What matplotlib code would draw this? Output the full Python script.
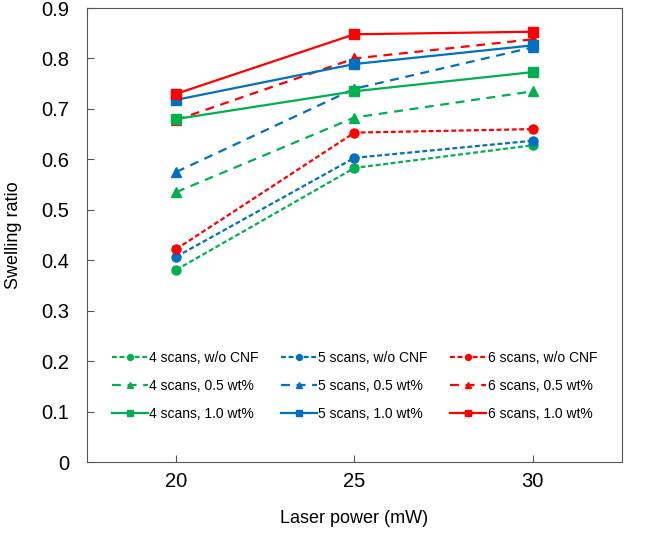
import matplotlib.pyplot as plt

plt.rcParams['font.family'] = ['Liberation Sans', 'DejaVu Sans']

power = [20, 25, 30]

# swelling ratio per series
s4_none = [0.381, 0.583, 0.628]
s5_none = [0.407, 0.603, 0.637]
s6_none = [0.422, 0.653, 0.660]
s4_05 = [0.535, 0.683, 0.735]
s5_05 = [0.575, 0.740, 0.822]
s6_05 = [0.678, 0.800, 0.838]
s4_10 = [0.680, 0.735, 0.773]
s5_10 = [0.718, 0.789, 0.826]
s6_10 = [0.730, 0.848, 0.853]

green = '#00B050'
blue = '#0070C0'
red = '#FF0000'

fig = plt.figure(figsize=(6.45, 5.36), dpi=100)
ax = fig.add_axes([0.135, 0.138, 0.829, 0.847])

short = (0, (2.2, 1.2))
long_ = (0, (4, 3))

series = [
    (s4_none, green, short, 'o', '4 scans, w/o CNF'),
    (s5_none, blue, short, 'o', '5 scans, w/o CNF'),
    (s6_none, red, short, 'o', '6 scans, w/o CNF'),
    (s4_05, green, long_, '^', '4 scans, 0.5 wt%'),
    (s5_05, blue, long_, '^', '5 scans, 0.5 wt%'),
    (s6_05, red, long_, '^', '6 scans, 0.5 wt%'),
    (s4_10, green, '-', 's', '4 scans, 1.0 wt%'),
    (s5_10, blue, '-', 's', '5 scans, 1.0 wt%'),
    (s6_10, red, '-', 's', '6 scans, 1.0 wt%'),
]

handles = []
for vals, c, ls, m, lab in series:
    h, = ax.plot(power, vals, color=c, linestyle=ls, marker=m, markersize=6.5,
                 linewidth=1.6, label=lab)
    handles.append(h)

# legend ordered row by row (matplotlib fills columns first)
order = [0, 3, 6, 1, 4, 7, 2, 5, 8]
ax.legend([handles[i] for i in order], [series[i][4] for i in order],
          ncol=3, frameon=False, loc='lower center', bbox_to_anchor=(0.5, 0.063),
          fontsize=10, handlelength=2.6, handletextpad=0.1, columnspacing=1.6,
          labelspacing=1.0, markerscale=0.65)

ax.set_xlim(17.5, 32.5)
ax.set_ylim(0, 0.9)
ax.set_xticks(power)
ax.set_yticks([i / 10 for i in range(10)])
ax.set_yticklabels(['0'] + ['%.1f' % (i / 10) for i in range(1, 10)])
ax.tick_params(direction='in', labelsize=14.5, length=5, color='#555555')
ax.tick_params(axis='y', pad=13)
ax.tick_params(axis='x', pad=7)
ax.set_xlabel('Laser power (mW)', fontsize=13, labelpad=14)
ax.set_ylabel('Swelling ratio', fontsize=13, labelpad=14)
for sp in ax.spines.values():
    sp.set_color('#555555')

fig.savefig('out.png', dpi=100)
